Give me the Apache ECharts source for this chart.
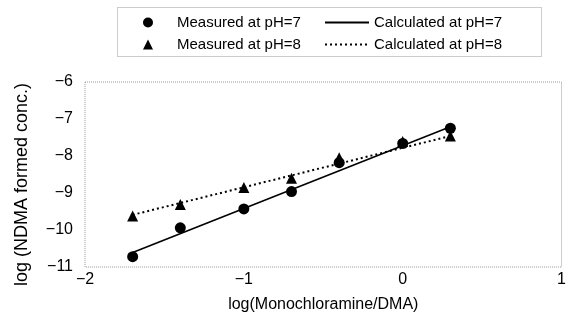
<!DOCTYPE html>
<html>
<head>
<meta charset="utf-8">
<script src="https://cdn.jsdelivr.net/npm/echarts@6/dist/echarts.min.js"></script>
<style>
  html, body { margin: 0; padding: 0; background: #fff; }
  #chart { width: 569px; height: 332px; }
</style>
</head>
<body>
<div id="chart"></div>
<script>
// log(Monochloramine/DMA) at each measurement
var ratioLog = [-1.70, -1.40, -1.00, -0.70, -0.40, 0.00, 0.30]
// measured log(NDMA formed conc.)
var measuredPH7 = [-10.72, -9.94, -9.43, -8.96, -8.18, -7.66, -7.25]
var measuredPH8 = [-9.62, -9.31, -8.85, -8.60, -8.05, -7.61, -7.46]
// calculated (straight lines, end points)
var calcX = [-1.70, 0.30]
var calcPH7 = [-10.61, -7.21]
var calcPH8 = [-9.59, -7.46]

var xTicks = [-2, -1, 0, 1]
var yTicks = [-11, -10, -9, -8, -7, -6]

function pairs(xs, ys) {
  return xs.map(function (x, i) { return [x, ys[i]] })
}
function minus(v) {
  return String(v).replace('-', '\u2212')
}

var font = '"Liberation Sans", Arial, sans-serif'
var chart = echarts.init(document.getElementById('chart'))

chart.setOption({
  animation: false,
  textStyle: { fontFamily: font, color: '#000' },
  grid: {
    left: 85, right: 6, top: 82, bottom: 65,
    show: true,
    borderColor: '#999',
    borderWidth: 1,
    borderType: [1, 1]
  },
  graphic: [{
    // frame round the legend
    type: 'rect',
    shape: { x: 117.5, y: 7.5, width: 424, height: 49 },
    style: { fill: 'none', stroke: '#999', lineWidth: 1, lineDash: [1, 1] },
    z: 0
  }],
  legend: [{
    orient: 'vertical',
    left: 143, top: 15, padding: 0,
    itemWidth: 10, itemHeight: 10, itemGap: 7,
    textStyle: { fontSize: 15, color: '#000', fontFamily: font, padding: [0, 0, 0, 19] },
    data: [
      { name: 'Measured at pH=7', icon: 'circle' },
      { name: 'Measured at pH=8', icon: 'triangle' }
    ]
  }, {
    orient: 'vertical',
    left: 324, top: 15, padding: 0,
    itemWidth: 44, itemHeight: 10, itemGap: 7,
    textStyle: { fontSize: 15, color: '#000', fontFamily: font },
    data: [
      { name: 'Calculated at pH=7', itemStyle: { opacity: 0 } },
      { name: 'Calculated at pH=8', itemStyle: { opacity: 0 } }
    ]
  }],
  xAxis: {
    type: 'value',
    min: xTicks[0], max: xTicks[xTicks.length - 1], interval: 1,
    name: 'log(Monochloramine/DMA)',
    nameLocation: 'middle', nameGap: 30,
    nameTextStyle: { fontSize: 16, color: '#000' },
    axisLine: { show: false },
    axisTick: { show: false },
    splitLine: { show: false },
    axisLabel: { fontSize: 16, color: '#000', margin: 5, formatter: minus }
  },
  yAxis: {
    type: 'value',
    min: yTicks[0], max: yTicks[yTicks.length - 1], interval: 1,
    name: 'log (NDMA formed conc.)',
    nameLocation: 'middle', nameGap: 54, nameRotate: 90,
    nameTextStyle: { fontSize: 18, color: '#000', padding: [0, 20, 0, 0] },
    axisLine: { show: false },
    axisTick: { show: false },
    splitLine: { show: false },
    axisLabel: { fontSize: 16, color: '#000', margin: 12, formatter: minus }
  },
  series: [{
    name: 'Calculated at pH=7',
    type: 'line',
    data: pairs(calcX, calcPH7),
    symbol: 'none',
    lineStyle: { color: '#000', width: 1.6, type: 'solid' },
    itemStyle: { color: '#000' },
    z: 2
  }, {
    name: 'Calculated at pH=8',
    type: 'line',
    data: pairs(calcX, calcPH8),
    symbol: 'none',
    lineStyle: { color: '#000', width: 2, type: [2, 3] },
    itemStyle: { color: '#000' },
    z: 2
  }, {
    name: 'Measured at pH=7',
    type: 'scatter',
    data: pairs(ratioLog, measuredPH7),
    symbol: 'circle',
    symbolSize: 11,
    itemStyle: { color: '#000', opacity: 1 },
    z: 3
  }, {
    name: 'Measured at pH=8',
    type: 'scatter',
    data: pairs(ratioLog, measuredPH8),
    symbol: 'triangle',
    symbolSize: 11,
    itemStyle: { color: '#000', opacity: 1 },
    z: 3
  }]
})
</script>
</body>
</html>
